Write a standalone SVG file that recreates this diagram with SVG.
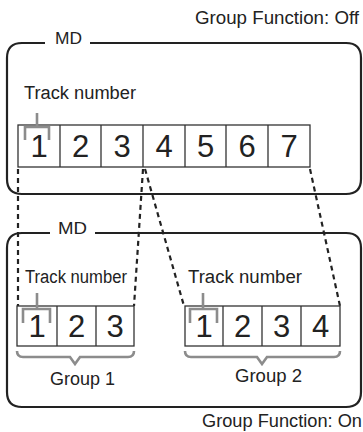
<svg xmlns="http://www.w3.org/2000/svg" width="363" height="432" viewBox="0 0 363 432">
<style>
text{font-family:"Liberation Sans",Arial,sans-serif;fill:#222}
.lbl{font-size:18px}
.md{font-size:17px}
.dg{font-size:31px;text-anchor:middle}
.box{fill:none;stroke:#222;stroke-width:2.2}
.cell{fill:#fff;stroke:#333;stroke-width:1.3}
.br{fill:none;stroke:#8c8c8c;stroke-width:2.6}
.dash{fill:none;stroke:#222;stroke-width:2.2;stroke-dasharray:5 4}
</style>
<rect width="363" height="432" fill="#fff"/>
<text class="lbl" x="195" y="24" textLength="164" lengthAdjust="spacingAndGlyphs">Group Function: Off</text>
<g id="md-top">
<path class="box" d="M45,43 L22,43 Q7,43 7,58 L7,179 Q7,194 22,194 L346,194 Q361,194 361,179 L361,58 Q361,43 346,43 L90,43"/>
<text class="md" x="55" y="44" textLength="27" lengthAdjust="spacingAndGlyphs">MD</text>
</g>
<g id="tracks-off">
<text class="lbl" x="24" y="99" textLength="112" lengthAdjust="spacingAndGlyphs">Track number</text>
<rect class="cell" x="18" y="125" width="292" height="42"/>
<path class="cell" d="M60,125V167M101,125V167M143,125V167M185,125V167M226,125V167M268,125V167"/>
<path class="br" d="M37,113V127M25,140V127H49V140"/>
<text class="dg" x="39" y="157">1</text>
<text class="dg" x="80.5" y="157">2</text>
<text class="dg" x="122" y="157">3</text>
<text class="dg" x="164" y="157">4</text>
<text class="dg" x="205.5" y="157">5</text>
<text class="dg" x="247" y="157">6</text>
<text class="dg" x="289" y="157">7</text>
</g>
<g id="connectors">
<path class="dash" d="M18,169V306"/>
<path class="dash" d="M143,169L134,306"/>
<path class="dash" d="M145,169L184,306"/>
<path class="dash" d="M310,169L340,306"/>
</g>
<g id="md-bottom">
<path class="box" d="M50,233 L22,233 Q7,233 7,248 L7,392 Q7,407 22,407 L346,407 Q361,407 361,392 L361,248 Q361,233 346,233 L95,233"/>
<text class="md" x="58" y="234" textLength="29" lengthAdjust="spacingAndGlyphs">MD</text>
</g>
<g id="group1">
<text class="lbl" x="25" y="283" textLength="102" lengthAdjust="spacingAndGlyphs">Track number</text>
<rect class="cell" x="17" y="306" width="117" height="40"/>
<path class="cell" d="M57,306V346M96,306V346"/>
<path class="br" d="M37,293V309M23,323V309H50V323"/>
<text class="dg" x="37" y="337">1</text>
<text class="dg" x="76.5" y="337">2</text>
<text class="dg" x="115" y="337">3</text>
<path class="br" d="M17,351Q17,357 23,357L70,357L75,364L80,357L128,357Q134,357 134,351"/>
<text class="lbl" x="50" y="385" textLength="65" lengthAdjust="spacingAndGlyphs">Group 1</text>
</g>
<g id="group2">
<text class="lbl" x="188" y="283" textLength="114" lengthAdjust="spacingAndGlyphs">Track number</text>
<rect class="cell" x="185" y="306" width="155" height="40"/>
<path class="cell" d="M223,306V346M262,306V346M301,306V346"/>
<path class="br" d="M203,293V309M190,323V309H217V323"/>
<text class="dg" x="204" y="337">1</text>
<text class="dg" x="242.5" y="337">2</text>
<text class="dg" x="281.5" y="337">3</text>
<text class="dg" x="320.5" y="337">4</text>
<path class="br" d="M185,351Q185,357 191,357L257,357L262,364L267,357L334,357Q340,357 340,351"/>
<text class="lbl" x="235" y="382" textLength="67" lengthAdjust="spacingAndGlyphs">Group 2</text>
</g>
<text class="lbl" x="202" y="427" textLength="160" lengthAdjust="spacingAndGlyphs">Group Function: On</text>
</svg>
